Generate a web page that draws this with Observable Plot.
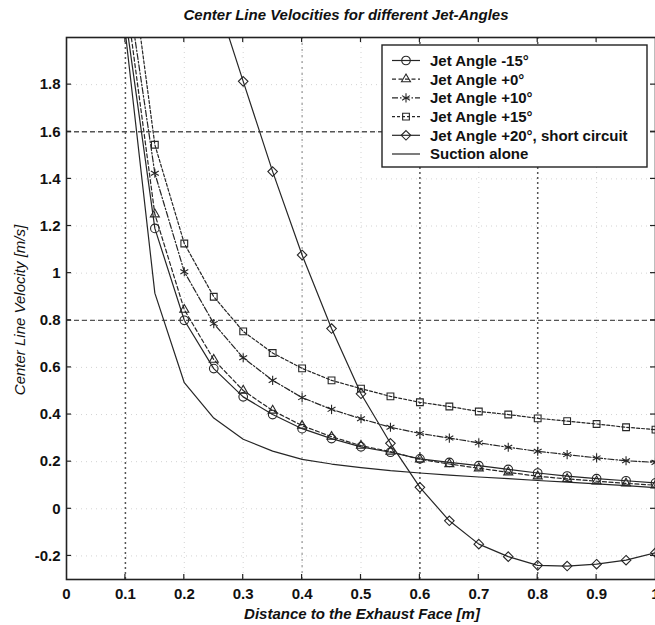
<!DOCTYPE html>
<html><head><meta charset="utf-8">
<script src="https://cdn.jsdelivr.net/npm/d3@7"></script>
<script src="https://cdn.jsdelivr.net/npm/@observablehq/plot@0.6"></script>
<style>
body{margin:0;background:#fff;}
#chart{width:655px;height:625px;}
svg{font-family:"Liberation Sans",Arial,Helvetica,sans-serif;}
</style>
</head><body><div id="chart"></div>
<script>
// ---- data ----
const xJet = [0.1,0.15,0.2,0.25,0.3,0.35,0.4,0.45,0.5,0.55,0.6,0.65,0.7,0.75,0.8,0.85,0.9,0.95,1.0];
const jetM15 = [2.09,1.19,0.80,0.595,0.475,0.40,0.34,0.298,0.263,0.24,0.212,0.197,0.183,0.167,0.152,0.139,0.128,0.119,0.11];
const jetP0  = [2.19,1.25,0.845,0.633,0.502,0.417,0.353,0.306,0.268,0.243,0.21,0.19,0.172,0.155,0.138,0.127,0.117,0.108,0.10];
const jetP10 = [2.27,1.424,1.006,0.786,0.641,0.545,0.472,0.422,0.382,0.346,0.32,0.30,0.28,0.261,0.244,0.23,0.216,0.204,0.197];
const jetP15 = [2.49,1.545,1.126,0.90,0.753,0.661,0.596,0.545,0.51,0.477,0.452,0.434,0.413,0.40,0.384,0.372,0.36,0.346,0.336];
const xP20   = [0.25,0.3,0.35,0.4,0.45,0.5,0.55,0.6,0.65,0.7,0.75,0.8,0.85,0.9,0.95,1.0];
const jetP20 = [2.2,1.814,1.431,1.077,0.765,0.488,0.278,0.091,-0.051,-0.15,-0.203,-0.24,-0.243,-0.235,-0.218,-0.186];
const xSuction = [0.1,0.15,0.2,0.25,0.3,0.35,0.4,0.45,0.5,0.55,0.6,0.65,0.7,0.75,0.8,0.85,0.9,0.95,1.0];
const suction  = [2.02,0.915,0.535,0.385,0.295,0.245,0.21,0.19,0.175,0.162,0.152,0.143,0.135,0.128,0.12,0.113,0.106,0.098,0.09];

const seriesNames = ["Jet Angle -15°","Jet Angle +0°","Jet Angle +10°","Jet Angle +15°","Jet Angle +20°, short circuit","Suction alone"];
const xTicks = [0,0.1,0.2,0.3,0.4,0.5,0.6,0.7,0.8,0.9,1];
const yTicks = [-0.2,0,0.2,0.4,0.6,0.8,1,1.2,1.4,1.6,1.8];
const strongY = [1.6,0.8];
const strongX = [0.1,0.6,0.8];
const mediumX = [0.4];

const titleText = "Center Line Velocities for different Jet-Angles";
const xLabel = "Distance to the Exhaust Face [m]";
const yLabel = "Center Line Velocity [m/s]";

// ---- build tables ----
const mk = (xs, ys, name) => xs.map((x,i)=>({x, y: ys[i], s: name}));
const series = [
  {name: seriesNames[0], data: mk(xJet, jetM15, seriesNames[0]), symbol: "circle", dash: null, d3sym: d3.symbolCircle},
  {name: seriesNames[1], data: mk(xJet, jetP0, seriesNames[1]), symbol: "triangle2", dash: "4,2.5", d3sym: d3.symbolTriangle2},
  {name: seriesNames[2], data: mk(xJet, jetP10, seriesNames[2]), symbol: "asterisk", dash: "6,2,1.5,2", d3sym: d3.symbolAsterisk},
  {name: seriesNames[3], data: mk(xJet, jetP15, seriesNames[3]), symbol: "square2", dash: "3,2", d3sym: d3.symbolSquare2},
  {name: seriesNames[4], data: mk(xP20, jetP20, seriesNames[4]), symbol: "diamond2", dash: null, d3sym: d3.symbolDiamond2},
  {name: seriesNames[5], data: mk(xSuction, suction, seriesNames[5]), symbol: null, dash: null, d3sym: null}
];

const ink = "#262626";
const R = 4.3;
const marks = [
  Plot.gridX(xTicks.filter(t=>t>0 && t<1), {stroke:"#a8a8a8", strokeOpacity:0.5, strokeDasharray:"1,4"}),
  Plot.gridY(yTicks, {stroke:"#a8a8a8", strokeOpacity:0.5, strokeDasharray:"1,4"}),
  Plot.ruleY(strongY, {stroke:"#555", strokeWidth:1.3, strokeDasharray:"5,3"}),
  Plot.ruleX(strongX, {stroke:"#555", strokeWidth:1.5, strokeDasharray:"2,3"}),
  Plot.ruleX(mediumX, {stroke:"#999", strokeWidth:1.2, strokeDasharray:"2,4"}),
];
for (const s of series) {
  marks.push(Plot.line(s.data, {x:"x", y:"y", stroke: ink, strokeWidth: 1.2, strokeDasharray: s.dash, clip: true}));
  if (s.symbol) marks.push(Plot.dot(s.data, {x:"x", y:"y", symbol: s.symbol, r: R, stroke: ink, strokeWidth: 1.1, fill: "none", clip: true}));
}
marks.push(Plot.axisX(xTicks, {anchor:"bottom", tickSize:0, tickPadding:9, fontSize:15, fontWeight:"bold", fill:"#111", label:null,
  tickFormat: d => d===0 ? "0" : d===1 ? "1" : d.toFixed(1)}));
marks.push(Plot.axisY(yTicks, {anchor:"left", tickSize:0, tickPadding:6, fontSize:15, fontWeight:"bold", fill:"#111", label:null,
  tickFormat: d => String(+d.toFixed(1))}));
marks.push(Plot.frame({stroke:"#222", strokeWidth:1.6}));

const chart = Plot.plot({
  width: 655, height: 625,
  marginLeft: 66, marginRight: 0, marginTop: 37, marginBottom: 46,
  x: {domain:[0,1]},
  y: {domain:[-0.3,2.0]},
  style: {fontFamily:'"Liberation Sans",Arial,Helvetica,sans-serif', background:"#fff"},
  marks
});
document.getElementById("chart").appendChild(chart);

// ---- decorations (inward ticks, titles, legend) ----
const svg = d3.select(chart);
const sx = chart.scale("x"), sy = chart.scale("y");
const [x0, x1] = sx.range, [y0, y1] = sy.range; // y0 bottom, y1 top
const tg = svg.append("g").attr("stroke","#222").attr("stroke-width",1.2);
for (const t of xTicks.filter(t=>t>0 && t<1)) {
  const px = sx.apply(t);
  tg.append("line").attr("x1",px).attr("x2",px).attr("y1",y0).attr("y2",y0-5);
  tg.append("line").attr("x1",px).attr("x2",px).attr("y1",y1).attr("y2",y1+5);
}
for (const t of yTicks) {
  const py = sy.apply(t);
  tg.append("line").attr("x1",x0).attr("x2",x0+5).attr("y1",py).attr("y2",py);
  tg.append("line").attr("x1",x1).attr("x2",x1-5).attr("y1",py).attr("y2",py);
}
svg.append("text").text(titleText).attr("x", 346).attr("y", 20)
  .attr("text-anchor","middle").attr("font-size",15).attr("font-weight","bold").attr("font-style","italic").attr("fill","#111");
svg.append("text").text(xLabel).attr("x", 362).attr("y", 619)
  .attr("text-anchor","middle").attr("font-size",15).attr("font-weight","bold").attr("font-style","italic").attr("fill","#111");
svg.append("text").text(yLabel).attr("transform","translate(25,310) rotate(-90)")
  .attr("text-anchor","middle").attr("font-size",15).attr("font-style","italic").attr("fill","#111");

// legend
const lg = svg.append("g").attr("text-anchor","start");
lg.append("rect").attr("x",382).attr("y",45).attr("width",265).attr("height",122)
  .attr("fill","#fff").attr("stroke","#222").attr("stroke-width",1.4);
series.forEach((s,i) => {
  const cy = 60.5 + i*18.7;
  lg.append("line").attr("x1",392).attr("x2",420).attr("y1",cy).attr("y2",cy)
    .attr("stroke",ink).attr("stroke-width",1.2).attr("stroke-dasharray", s.dash);
  if (s.d3sym) lg.append("path").attr("d", d3.symbol(s.d3sym, Math.PI*R*R)())
    .attr("transform",`translate(406,${cy})`).attr("fill","none").attr("stroke",ink).attr("stroke-width",1.1);
  lg.append("text").text(s.name).attr("x",430).attr("y",cy).attr("dy","0.36em").attr("text-anchor","start")
    .attr("font-size",15).attr("font-weight","bold").attr("fill","#111");
});
</script>
</body></html>
